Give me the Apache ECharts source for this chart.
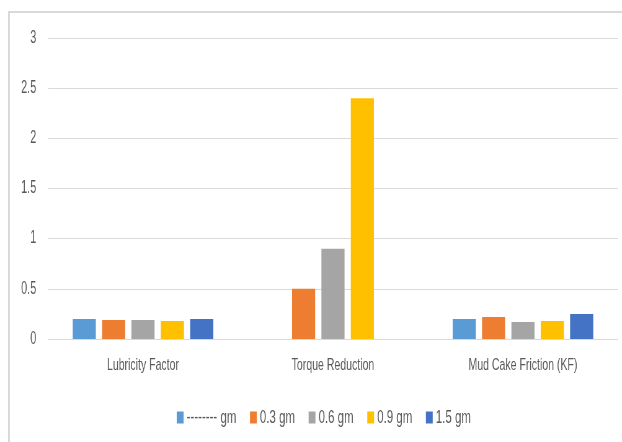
<!DOCTYPE html>
<html>
<head>
<meta charset="utf-8">
<script src="https://cdn.jsdelivr.net/npm/echarts@6/dist/echarts.min.js"></script>
<style>
  html, body { margin: 0; padding: 0; background: #ffffff; }
  #frame { position: relative; width: 622px; height: 442px; overflow: hidden; }
  #border {
    position: absolute; left: 8px; top: 11px; right: -4px; bottom: -4px;
    border-left: 2px solid #d9d9d9; border-top: 2px solid #d9d9d9;
  }
  /* the chart is drawn wide and condensed horizontally, giving narrow lettering */
  #chart {
    position: absolute; left: 0; top: 0;
    width: 1003px; height: 442px;
    transform: scaleX(0.6201); transform-origin: 0 0;
  }
</style>
</head>
<body>
<div id="frame">
  <div id="border"></div>
  <div id="chart"></div>
</div>
<script>
// Categories on the x axis
const categories = ['Lubricity Factor', 'Torque Reduction', 'Mud Cake Friction (KF)'];

// One array per additive dose (null = no bar)
const seriesNames = ['-------- gm', '0.3 gm', '0.6 gm', '0.9 gm', '1.5 gm'];
const doseBase = [0.20, null, 0.20];
const dose03 = [0.19, 0.50, 0.22];
const dose06 = [0.19, 0.90, 0.17];
const dose09 = [0.18, 2.40, 0.18];
const dose15 = [0.20, null, 0.25];

// Value axis ticks
const yMin = 0, yMax = 3, yStep = 0.5;

const colors = ['#5B9BD5', '#ED7D31', '#A5A5A5', '#FFC000', '#4472C4'];
const seriesData = [doseBase, dose03, dose06, dose09, dose15];
const font = "'Liberation Sans', Arial, sans-serif";
const textColor = '#595959';

const chart = echarts.init(document.getElementById('chart'), null, { renderer: 'canvas' });
chart.setOption({
  animation: false,
  backgroundColor: 'transparent',
  color: colors,
  grid: { left: 77.4, right: 6.5, top: 38, bottom: 103, containLabel: false },
  legend: {
    data: seriesNames,
    top: 403,
    left: 280,
    itemWidth: 11,
    itemHeight: 12,
    itemGap: 22,
    icon: 'rect',
    textStyle: { color: textColor, fontSize: 18.5, fontFamily: font }
  },
  xAxis: {
    type: 'category',
    data: categories,
    axisTick: { show: false },
    axisLine: { lineStyle: { color: '#d9d9d9', width: 1 } },
    axisLabel: { color: textColor, fontSize: 17, fontFamily: font, margin: 18 }
  },
  yAxis: {
    type: 'value',
    min: yMin, max: yMax, interval: yStep,
    axisLine: { show: false },
    axisTick: { show: false },
    splitLine: { lineStyle: { color: '#d9d9d9', width: 1 } },
    axisLabel: { color: textColor, fontSize: 17.5, fontFamily: font, margin: 19 }
  },
  series: seriesNames.map((name, i) => ({
    name: name,
    type: 'bar',
    data: seriesData[i],
    barGap: '27%',
    barCategoryGap: '26%',
    itemStyle: { color: colors[i] }
  }))
});
</script>
</body>
</html>
